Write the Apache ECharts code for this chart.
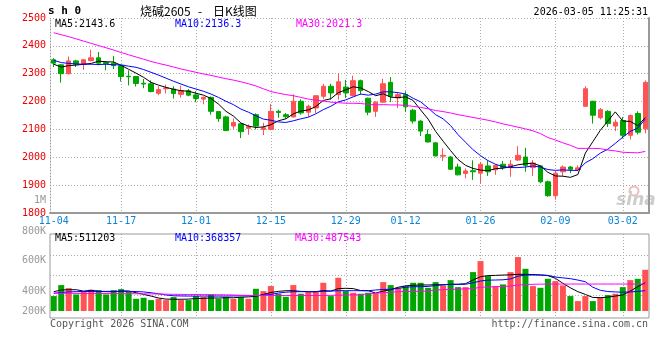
<!DOCTYPE html>
<html><head><meta charset="utf-8">
<script src="https://cdn.jsdelivr.net/npm/echarts@6/dist/echarts.min.js"></script>
<style>html,body{margin:0;padding:0;background:#fff}#c{width:660px;height:360px}</style>
</head><body><div id="c"></div>
<script>
const dates = ['11-04','11-05','11-06','11-07','11-10','11-11','11-12','11-13','11-14','11-17','11-18','11-19','11-20','11-21','11-24','11-25','11-26','11-27','11-28',
'12-01','12-02','12-03','12-04','12-05','12-08','12-09','12-10','12-11','12-12','12-15','12-16','12-17','12-18','12-19','12-22','12-23','12-24','12-25','12-26','12-29','12-30','12-31',
'01-05','01-06','01-07','01-08','01-09','01-12','01-13','01-14','01-15','01-16','01-19','01-20','01-21','01-22','01-23','01-26','01-27','01-28','01-29','01-30',
'02-02','02-03','02-04','02-05','02-06','02-09','02-10','02-11','02-12','02-13','02-24','02-25','02-26','02-27',
'03-02','03-03','03-04','03-05'];
const labelDates = ['11-04','11-17','12-01','12-15','12-29','01-12','01-26','02-09','03-02'];
const openP  = [2350,2332,2300,2346,2333,2347,2357,2340,2338,2329,2291,2290,2266,2264,2230,2246,2245,2226,2239,2224,2209,2215,2164,2145,2112,2120,2104,2153,2100,2100,2165,2153,2145,2201,2162,2177,2219,2255,2225,2252,2221,2275,2212,2165,2198,2269,2213,2225,2169,2130,2082,2052,2004,2001,1965,1942,1952,1943,1969,1955,1975,1963,1990,2001,1963,1969,1912,1862,1948,1965,1955,2183,2201,2142,2165,2112,2132,2079,2157,2102];
const closeP = [2338,2300,2346,2334,2350,2357,2338,2336,2329,2290,2289,2265,2263,2236,2243,2249,2229,2239,2223,2211,2215,2165,2139,2096,2125,2092,2110,2112,2106,2165,2161,2146,2201,2159,2183,2221,2255,2231,2271,2231,2275,2239,2162,2198,2264,2219,2225,2181,2130,2094,2055,2005,2007,1957,1937,1951,1948,1975,1948,1971,1963,1975,2007,1971,1979,1912,1862,1943,1965,1957,1962,2246,2151,2171,2121,2126,2079,2150,2090,2269];
const highP  = [2356,2334,2362,2350,2352,2386,2378,2344,2364,2331,2312,2292,2281,2276,2255,2261,2255,2257,2245,2237,2218,2218,2165,2149,2139,2122,2118,2158,2124,2192,2171,2159,2226,2208,2189,2223,2264,2264,2301,2278,2293,2279,2214,2201,2282,2288,2231,2237,2174,2133,2100,2054,2032,2005,1977,1960,1989,1983,1987,1975,1987,1990,2040,2034,1990,1971,1916,1951,1971,1969,1971,2255,2203,2177,2169,2136,2145,2154,2165,2276];
const lowP   = [2324,2268,2298,2324,2314,2344,2330,2312,2317,2272,2258,2254,2248,2233,2223,2229,2211,2214,2219,2198,2190,2153,2127,2094,2102,2069,2081,2100,2080,2097,2142,2138,2143,2153,2145,2158,2210,2207,2207,2213,2219,2225,2151,2145,2196,2198,2177,2162,2121,2076,2053,2003,1987,1955,1935,1925,1919,1906,1933,1937,1955,1930,1987,1948,1933,1907,1858,1848,1933,1943,1951,2181,2121,2136,2109,2094,2067,2064,2082,2086];
const ma5  = [2334,2324,2329,2331,2334,2337,2345,2343,2342,2330,2316,2302,2287,2269,2259,2251,2244,2239,2237,2230,2223,2211,2191,2165,2148,2123,2112,2107,2109,2117,2131,2138,2156,2166,2170,2182,2204,2210,2232,2242,2253,2249,2236,2221,2228,2216,2214,2217,2204,2170,2137,2093,2058,2024,1992,1971,1960,1954,1952,1959,1961,1966,1973,1977,1979,1969,1946,1933,1932,1928,1938,2015,2056,2097,2130,2163,2130,2129,2113,2143];
const ma10 = [2348,2340,2337,2335,2334,2334,2333,2334,2332,2332,2327,2323,2315,2305,2295,2284,2273,2263,2253,2245,2237,2227,2215,2201,2189,2173,2162,2149,2137,2133,2127,2125,2131,2138,2144,2156,2171,2183,2199,2206,2217,2227,2223,2227,2235,2235,2232,2227,2212,2199,2177,2153,2138,2114,2081,2054,2027,2006,1988,1975,1966,1963,1963,1965,1969,1965,1956,1953,1955,1953,1953,1980,1995,2015,2029,2050,2072,2093,2105,2137];
const ma30 = [2447,2440,2433,2425,2417,2409,2401,2393,2385,2376,2368,2360,2352,2344,2337,2331,2324,2317,2311,2305,2299,2294,2288,2282,2277,2271,2264,2256,2246,2236,2230,2225,2221,2215,2209,2205,2202,2198,2196,2194,2194,2193,2190,2188,2189,2188,2188,2186,2183,2179,2174,2168,2164,2159,2153,2148,2143,2138,2133,2127,2120,2114,2108,2102,2095,2085,2071,2062,2052,2043,2032,2032,2032,2031,2026,2023,2018,2017,2016,2021];
// volume in thousands
const volume = [270,469,414,300,348,384,378,300,378,396,348,221,239,197,221,197,252,197,197,270,252,300,221,252,221,252,221,402,360,451,312,257,469,312,342,360,511,270,601,360,330,312,330,312,523,469,420,451,511,511,420,523,463,559,432,432,704,903,632,451,481,704,976,764,451,420,583,541,463,270,179,270,179,252,288,312,432,559,583,746];
const volMa5  = [349,380,385,385,360,375,355,349,349,362,362,330,300,270,235,215,212,212,215,225,230,235,235,240,240,250,255,265,300,335,355,367,367,355,349,349,370,360,405,411,405,370,367,325,360,385,430,455,465,471,471,475,475,483,483,495,560,621,640,645,650,655,664,664,660,652,640,592,501,420,350,300,245,241,250,270,290,360,440,512];
const volMa10 = [320,335,345,350,352,354,355,355,355,355,355,352,345,330,312,290,275,272,270,270,270,270,270,270,272,274,276,278,285,300,325,340,349,350,350,350,355,360,367,367,367,367,367,380,390,393,410,430,440,440,445,460,475,483,483,483,510,543,558,561,565,580,630,650,652,652,645,615,600,585,560,530,430,375,352,345,340,345,355,368];
const volMa30 = [322,321,320,319,318,317,316,315,314,313,312,311,310,309,308,304,302,300,299,298,296,295,294,292,290,284,282,280,280,280,280,280,280,280,280,280,280,283,286,289,292,295,310,320,330,340,349,352,355,358,362,380,385,390,395,400,405,430,435,440,445,450,470,478,483,486,487,488,488,488,488,488,488,488,488,488,488,488,488,488];
const volTickLabels = ['800K','600K','400K','200K'];
const priceLegend = ['MA5:2143.6','MA10:2136.3','MA30:2021.3'];
const volLegend = ['MA5:511203','MA10:368357','MA30:487543'];

const UP = '#ff5353', DOWN = '#00a600';
const MONO = '"DejaVu Sans Mono", monospace';
const gridDot = {color:'#aaa', type:[1,2], width:1};
const isLabelDate = (i) => labelDates.includes(dates[i]);
const isLineDate = (i) => i > 0 && labelDates.includes(dates[i]);

function txt(text, x, y, fill, align, font){
  return {type:'text', silent:true, style:{text, x, y, fill, textAlign:align||'left', textVerticalAlign:'middle', font: font || ('10px ' + MONO)}};
}
const volLabelY = [231, 260, 291, 311];
const CJK = '12px "Noto Sans CJK SC"';
const graphics = [
  txt('s h 0', 48, 11, '#000', 'left', 'bold 11px ' + MONO),
  txt('烧碱2605', 140, 11, '#000', 'left', CJK),
  txt('-', 200, 11, '#000', 'center', CJK),
  txt('日K线图', 213, 11, '#000', 'left', CJK),
  txt('2026-03-05 11:25:31', 648, 12.5, '#000', 'right'),
  txt(priceLegend[0], 55, 24, '#000'),
  txt(priceLegend[1], 175, 24, '#0000ff'),
  txt(priceLegend[2], 296, 24, '#ff00ff'),
  txt('1M', 46, 200, '#999', 'right'),
  txt(volLegend[0], 55, 238.5, '#000'),
  txt(volLegend[1], 175, 238.5, '#0000ff'),
  txt(volLegend[2], 295, 238.5, '#ff00ff'),
  txt('Copyright 2026 SINA.COM', 50, 324, '#555'),
  txt('http://finance.sina.com.cn', 648, 324, '#555', 'right'),
  {type:'circle', silent:true, shape:{cx:634, cy:191, r:4.5}, style:{fill:'none', stroke:'#f2bcbc', lineWidth:2}},
  txt('sina', 636, 201, '#cdcdcd', 'center', 'italic bold 17px "DejaVu Sans"')
].concat(volTickLabels.map((t,i) => txt(t, 46, volLabelY[i], '#999', 'right')));

function line(name, data, color, xi, yi){
  return {name, type:'line', data, xAxisIndex:xi, yAxisIndex:yi, symbol:'none', silent:true,
          lineStyle:{color, width:1}, itemStyle:{color}, z:3};
}

const chart = echarts.init(document.getElementById('c'), null, {renderer:'canvas'});
chart.setOption({
  animation:false,
  textStyle:{fontFamily:MONO},
  grid:[
    {left:50, right:11, top:18, height:195},
    {left:50, right:11, top:234, height:84, show:true, borderColor:'#999', borderWidth:1},
    {left:50, right:11, top:255.7, height:40}
  ],
  xAxis:[
    {type:'category', gridIndex:0, data:dates, boundaryGap:true,
     axisLine:{lineStyle:{color:'#999', width:2}}, axisTick:{show:false},
     axisLabel:{color:'#0a84d6', fontSize:10, fontFamily:MONO, margin:3, interval:(i) => isLabelDate(i)},
     splitLine:{show:true, alignWithLabel:true, interval:(i) => isLineDate(i), lineStyle:gridDot}},
    {type:'category', gridIndex:1, data:dates, boundaryGap:true,
     axisLine:{show:false}, axisTick:{show:false}, axisLabel:{show:false},
     splitLine:{show:true, alignWithLabel:true, interval:(i) => isLineDate(i), lineStyle:gridDot}},
    {type:'value', gridIndex:2, min:0, max:1, show:false}
  ],
  yAxis:[
    {type:'value', gridIndex:0, min:1800, max:2500, interval:100,
     axisLine:{show:true, lineStyle:{color:'#999', type:[1,2]}}, axisTick:{show:false},
     axisLabel:{color:'#e00', fontSize:10, fontFamily:MONO, margin:4, formatter:v => String(v)},
     splitLine:{lineStyle:gridDot}},
    {type:'value', gridIndex:0, position:'right', min:1800, max:2500,
     axisLine:{show:true, lineStyle:{color:'#999', width:2}}, axisTick:{show:false},
     axisLabel:{show:false}, splitLine:{show:false}},
    {type:'value', gridIndex:1, min:-127, max:1394, show:false, splitLine:{show:false}},
    {type:'value', gridIndex:2, min:0, max:2, interval:1, axisLine:{show:false}, axisTick:{show:false},
     axisLabel:{show:false}, splitLine:{show:true, lineStyle:gridDot}}
  ],
  series:[
    {type:'scatter', xAxisIndex:2, yAxisIndex:3, data:[[0,0]], symbolSize:0, silent:true},
    {type:'candlestick', xAxisIndex:0, yAxisIndex:0, barWidth:5, silent:true,
     data: dates.map((d,i) => [openP[i], closeP[i], lowP[i], highP[i]]),
     itemStyle:{color:UP, color0:DOWN, borderColor:UP, borderColor0:DOWN, borderWidth:1}},
    line('MA5', ma5, '#000000', 0, 0),
    line('MA10', ma10, '#0000ff', 0, 0),
    line('MA30', ma30, '#ff00ff', 0, 0),
    {type:'bar', xAxisIndex:1, yAxisIndex:2, barWidth:6, silent:true,
     data: volume.map((v,i) => ({value:v, itemStyle:{color: closeP[i] >= openP[i] ? UP : DOWN}}))},
    line('VMA5', volMa5, '#000000', 1, 2),
    line('VMA10', volMa10, '#0000ff', 1, 2),
    line('VMA30', volMa30, '#ff00ff', 1, 2)
  ],
  graphic: graphics
});
</script>
</body></html>
